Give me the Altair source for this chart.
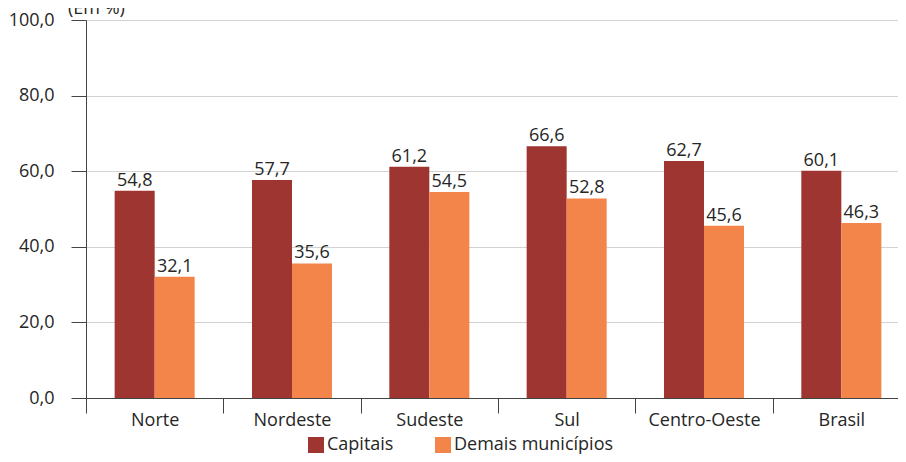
import altair as alt
import pandas as pd

categorias = ["Norte", "Nordeste", "Sudeste", "Sul", "Centro-Oeste", "Brasil"]
capitais = [54.8, 57.7, 61.2, 66.6, 62.7, 60.1]
demais = [32.1, 35.6, 54.5, 52.8, 45.6, 46.3]
series = ["Capitais", "Demais municípios"]
cores = ["#9e3530", "#f4854a"]
y_ticks = [0, 20, 40, 60, 80, 100]

rows = []
for c, a, b in zip(categorias, capitais, demais):
    rows.append({"regiao": c, "serie": series[0], "valor": a})
    rows.append({"regiao": c, "serie": series[1], "valor": b})
df = pd.DataFrame(rows)

FONT = "Open Sans"
TXT = "#262626"
FS = 18

x_enc = alt.X("regiao:N", sort=categorias, title=None,
              scale=alt.Scale(paddingInner=0, paddingOuter=0),
              axis=alt.Axis(labelAngle=0, tickBand="extent", tickSize=15,
                            labelPadding=-2, labelFontSize=FS, labelFont=FONT,
                            labelColor=TXT, domainColor="#444", tickColor="#444",
                            grid=False))
xoff = alt.XOffset("serie:N", sort=series,
                   scale=alt.Scale(paddingInner=0, paddingOuter=0.716))
y_enc = alt.Y("valor:Q", title=None,
              scale=alt.Scale(domain=[0, 100], nice=False),
              axis=alt.Axis(values=y_ticks, tickSize=15, labelPadding=17,
                            labelFontSize=FS, labelFont=FONT, labelColor=TXT,
                            labelExpr="replace(format(datum.value, '.1f'), '.', ',')",
                            domainColor="#444", tickColor="#444",
                            gridColor="#d2d2d2", gridWidth=1))

base = alt.Chart(df)

bars = base.mark_bar().encode(
    x=x_enc, xOffset=xoff, y=y_enc,
    color=alt.Color("serie:N", sort=series,
                    scale=alt.Scale(domain=series, range=cores),
                    legend=alt.Legend(title=None, orient="none", legendX=221,
                                      legendY=416, direction="horizontal",
                                      symbolType="square", symbolSize=256,
                                      symbolStrokeWidth=0, labelFontSize=FS,
                                      labelFont=FONT, labelColor=TXT,
                                      labelOffset=2, columnPadding=40,
                                      padding=0)),
)

labels = base.transform_calculate(
    rot="replace(format(datum.valor, '.1f'), '.', ',')"
).mark_text(baseline="alphabetic", dy=-5, fontSize=FS, font=FONT, color=TXT).encode(
    x=alt.X("regiao:N", sort=categorias),
    xOffset=alt.XOffset("serie:N", sort=series),
    y="valor:Q",
    text="rot:N",
)

unidade = alt.Chart(pd.DataFrame({"t": ["(Em %)"]})).mark_text(
    align="left", baseline="alphabetic", fontSize=FS, font=FONT, color=TXT
).encode(x=alt.value(-18), y=alt.value(-6), text="t:N")

chart = alt.layer(bars, labels, unidade).properties(
    width=824, height=378,
    autosize=alt.AutoSizeParams(type="none"),
    padding={"left": 78, "top": 12, "right": -12, "bottom": 56},
).configure_view(stroke=None).configure(background="white")

chart.save("out.html", embed_options={"renderer": "svg", "actions": False})
